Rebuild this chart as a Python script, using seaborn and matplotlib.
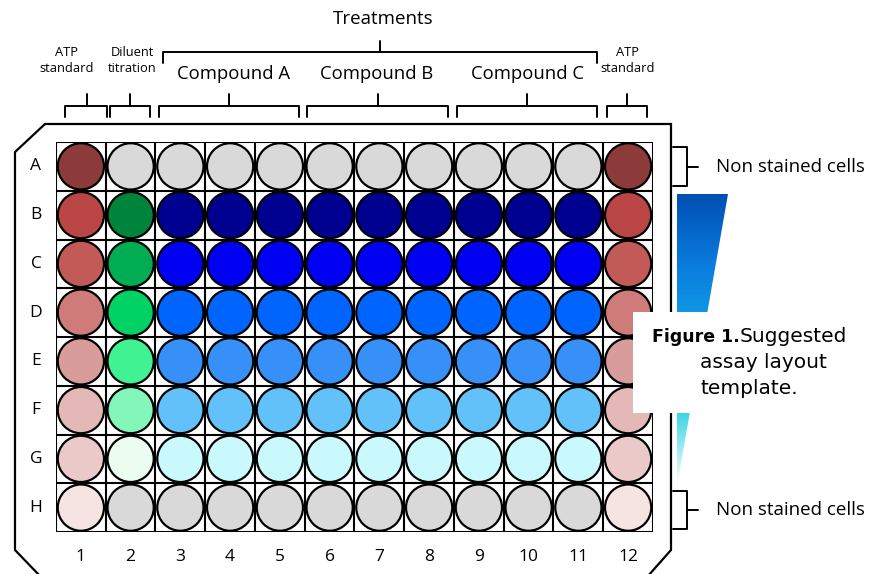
import matplotlib
matplotlib.use("Agg")
import matplotlib.pyplot as plt
import numpy as np
import pandas as pd
import seaborn as sns
from matplotlib.colors import LinearSegmentedColormap
from matplotlib.patches import Polygon, Rectangle

# plate layout
rows = list("ABCDEFGH")
cols = list(range(1, 13))
atp_colors = ["#8c3a3a", "#b94545", "#c25a58", "#cf7b79", "#d89c9a", "#e4b8b7", "#ebc9c8", "#f6e4e3"]
diluent_colors = ["#d9d9d9", "#00843c", "#00ad52", "#00d264", "#40f292", "#82f7b9", "#ebfcf1", "#d9d9d9"]
compound_colors = ["#d9d9d9", "#000090", "#0000f2", "#0064ff", "#3690f8", "#62c1f9", "#c9f9fd", "#d9d9d9"]
column_groups = ["ATP standard", "Diluent titration", "Compound A", "Compound B", "Compound C", "ATP standard"]
row_label_note = "Non stained cells"

# build a long table of wells
records = []
for c in cols:
    if c in (1, 12):
        palette_col = atp_colors
    elif c == 2:
        palette_col = diluent_colors
    else:
        palette_col = compound_colors
    for i, r in enumerate(rows):
        records.append({"col": c, "row": i + 1, "label": r, "color": palette_col[i]})
wells = pd.DataFrame(records)

sns.set_style("white")
plt.rcParams["font.family"] = ["Open Sans", "DejaVu Sans"]
plt.rcParams["text.color"] = "black"

W, H = 870, 574
fig = plt.figure(figsize=(W / 100, H / 100), dpi=100)

# background axes in pixel coordinates
bg = fig.add_axes([0, 0, 1, 1])
bg.set_xlim(0, W)
bg.set_ylim(H, 0)
bg.axis("off")

# plate outline
outline = [(45, 124), (671, 124), (671, 550), (648, 576), (40, 576), (15, 550), (15, 152), (45, 124)]
bg.plot([p[0] for p in outline], [p[1] for p in outline], color="black", lw=1.6, solid_joinstyle="miter")

# grid axes
gx0, gx1, gy0, gy1 = 56, 653, 142, 532
plate = fig.add_axes([gx0 / W, 1 - gy1 / H, (gx1 - gx0) / W, (gy1 - gy0) / H])
plate.set_xlim(0.5, 12.5)
plate.set_ylim(8.5, 0.5)
plate.axis("off")
for x in np.arange(0.5, 13, 1):
    plate.axvline(x, color="black", lw=1.5, zorder=1)
for y in np.arange(0.5, 9, 1):
    plate.axhline(y, color="black", lw=1.5, zorder=1)
sns.scatterplot(data=wells, x="col", y="row", hue="color",
                palette={c: c for c in wells["color"].unique()},
                s=1110, edgecolor="black", linewidth=1.6, legend=False,
                ax=plate, zorder=3, clip_on=False)
plate.set_xlabel("")
plate.set_ylabel("")

# row and column labels
for i, r in enumerate(rows):
    bg.text(36, gy0 + (i + 0.5) * (gy1 - gy0) / 8, r, ha="center", va="center", fontsize=12.5)
for c in cols:
    bg.text(gx0 + (c - 0.5) * (gx1 - gx0) / 12, 557, str(c), ha="center", va="center", fontsize=12.5)

# top brackets
def top_bracket(x0, x1, xm, y, drop, rise):
    bg.plot([x0, x0, x1, x1], [y + drop, y, y, y + drop], color="black", lw=1.4)
    bg.plot([xm, xm], [y, y - rise], color="black", lw=1.4)

top_bracket(163, 597, 380, 52, 11, 11)
spans = [(65, 107, 87), (110, 150, 130), (159, 299, 229), (307, 448, 378), (457, 597, 527), (607, 647, 627)]
for x0, x1, xm in spans:
    top_bracket(x0, x1, xm, 106, 11, 12)

bg.text(383, 19, "Treatments", ha="center", va="center", fontsize=13.5)
bg.text(67, 61, "ATP\nstandard", ha="center", va="center", fontsize=9.3, linespacing=1.3)
bg.text(132, 61, "Diluent\ntitration", ha="center", va="center", fontsize=9.3, linespacing=1.3)
bg.text(628, 61, "ATP\nstandard", ha="center", va="center", fontsize=9.3, linespacing=1.3)
for name, xc in zip(column_groups[2:5], [234, 377, 528]):
    bg.text(xc, 74, name, ha="center", va="center", fontsize=13.3)

# right side brackets
for yt, yb in [(147, 186), (491, 529)]:
    ym = (yt + yb) / 2
    bg.plot([673, 687, 687, 673], [yt, yt, yb, yb], color="black", lw=1.4)
    bg.plot([687, 698], [ym, ym], color="black", lw=1.4)
    bg.text(716, ym, row_label_note, ha="left", va="center", fontsize=13.5)

# gradient wedge
cmap = LinearSegmentedColormap.from_list(
    "wedge", ["#0050b2", "#0a7ddf", "#14a6e8", "#3bd6e4", "#ffffff"])
grad = np.linspace(0, 1, 256).reshape(-1, 1)
im = bg.imshow(grad, cmap=cmap, extent=(677, 728, 486, 194), aspect="auto", zorder=2)
wedge = Polygon([(677, 194), (728, 194), (677, 486)], closed=True, transform=bg.transData)
im.set_clip_path(wedge)
bg.set_xlim(0, W)
bg.set_ylim(H, 0)

# caption box on top
top = fig.add_axes([0, 0, 1, 1])
top.set_xlim(0, W)
top.set_ylim(H, 0)
top.axis("off")
top.patch.set_alpha(0)
top.add_patch(Rectangle((633, 312), 240, 101, facecolor="white", edgecolor="none"))
cap_font = ["DejaVu Sans"]
top.text(652, 337, "Figure 1.", ha="left", va="center", fontsize=12.5, fontweight="bold", family=cap_font)
top.text(740, 337, "Suggested", ha="left", va="center", fontsize=14.5, family=cap_font)
top.text(700, 363, "assay layout", ha="left", va="center", fontsize=14.5, family=cap_font)
top.text(701, 389, "template.", ha="left", va="center", fontsize=14.5, family=cap_font)

fig.savefig("out.png", dpi=100)
